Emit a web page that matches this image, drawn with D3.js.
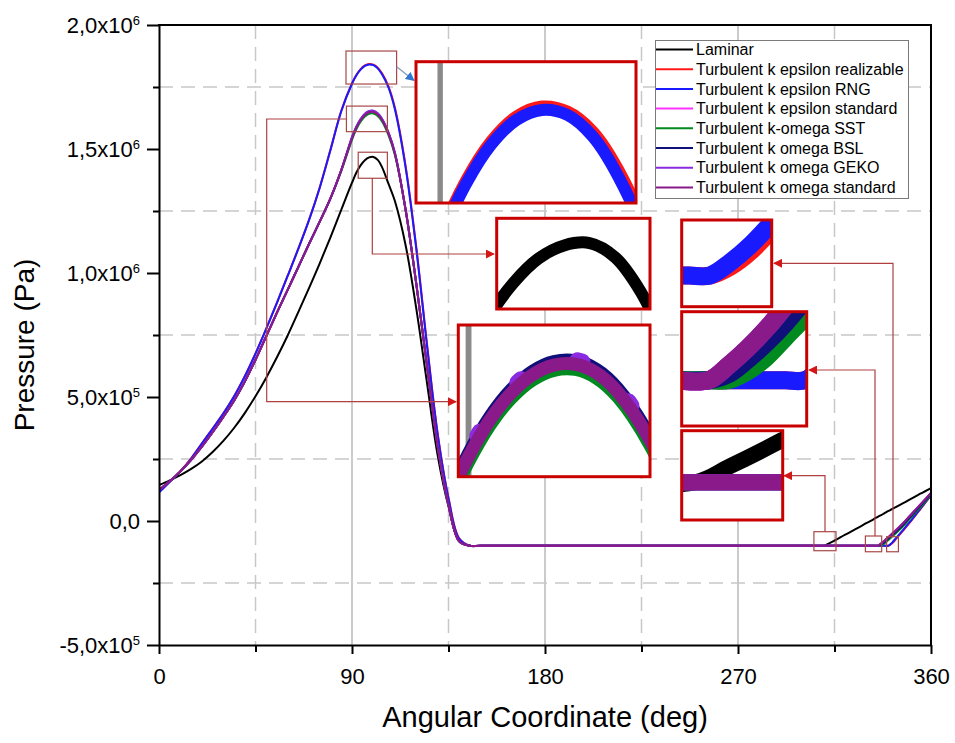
<!DOCTYPE html>
<html>
<head>
<meta charset="utf-8">
<script src="https://d3js.org/d3.v7.min.js"></script>
<style>
  body { margin: 0; background: #fff; }
  svg { display: block; font-family: "Liberation Sans", Arial, sans-serif; }
</style>
</head>
<body>
<svg id="chart" width="955" height="743"></svg>
<script>
// angular coordinate (deg), shared by every series
const angles = [0,5,10,15,20,25,30,35,40,45,50,55,60,65,70,75,80,85,90,92,94,96,98,100,102,104,107,110,115,120,125,130,135,140,145,150,200,250,300,305,310,312,315,320,325,330,333,335,336,337,338,339,340,341,342,344,347,350,355,360];

// pressure in kPa
const laminar = [145,164,185,210,240,278,323,375,435,503,578,660,748,843,940,1040,1145,1255,1364,1404,1434,1455,1466,1468,1456,1427,1360,1290,1112,855,555,262,58,-82,-100,-100,-100,-100,-100,-100,-100,-92,-79,-55,-32,-8,6,16,21,25,30,35,40,44,49,58,72,86,110,133];
const kepsRealizable = [118,159,202,253,313,373,434,503,584,676,776,881,989,1099,1215,1347,1499,1654,1765,1798,1822,1837,1843,1840,1828,1805,1753,1667,1432,1103,712,350,94,-70,-100,-100,-100,-100,-100,-100,-100,-100,-100,-100,-100,-100,-100,-100,-100,-100,-100,-100,-100,-96,-89,-69,-39,-8,47,103];
const kepsRNG = [115,157,200,252,312,372,433,502,583,675,775,880,988,1098,1214,1345,1497,1652,1763,1796,1820,1835,1841,1838,1825,1801,1748,1660,1425,1095,705,345,90,-72,-100,-100,-100,-100,-100,-100,-100,-100,-100,-100,-100,-100,-100,-100,-100,-100,-100,-100,-100,-94,-86,-66,-36,-5,50,105];
const kepsStandard = [125,160,200,247,300,358,420,485,562,650,745,840,932,1025,1118,1208,1302,1415,1543,1585,1616,1637,1648,1649,1639,1617,1562,1481,1255,955,625,300,65,-82,-100,-100,-100,-100,-100,-100,-100,-100,-100,-100,-100,-100,-100,-100,-95,-89,-82,-74,-66,-58,-50,-34,-9,19,66,113];
const komegaSST = [125,160,200,247,300,358,420,485,562,650,745,840,932,1025,1118,1208,1302,1411,1537,1579,1610,1631,1642,1643,1633,1611,1556,1476,1255,955,625,300,65,-82,-100,-100,-100,-100,-100,-100,-100,-100,-100,-100,-100,-100,-100,-100,-100,-97,-92,-85,-78,-70,-62,-46,-21,8,55,106];
const komegaBSL = [125,160,200,247,300,358,420,485,562,650,745,840,932,1025,1118,1208,1302,1415,1547,1589,1620,1641,1652,1653,1643,1621,1566,1484,1255,955,625,300,65,-82,-100,-100,-100,-100,-100,-100,-100,-100,-100,-100,-100,-100,-100,-100,-98,-93,-87,-80,-72,-64,-56,-40,-15,14,61,110];
const komegaGEKO = [125,160,200,247,300,358,420,485,562,650,745,840,932,1025,1118,1208,1302,1415,1548,1590,1621,1642,1653,1654,1644,1622,1567,1486,1255,955,625,300,65,-82,-100,-100,-100,-100,-100,-100,-100,-100,-100,-100,-100,-100,-100,-100,-95,-89,-82,-74,-66,-58,-50,-34,-9,19,66,113];
const komegaStandard = [125,160,200,247,300,358,420,485,562,650,745,840,932,1025,1118,1208,1302,1415,1543,1585,1616,1637,1648,1649,1639,1617,1562,1481,1255,955,625,300,65,-82,-100,-100,-100,-100,-100,-100,-100,-100,-100,-100,-100,-100,-100,-100,-95,-89,-82,-74,-66,-58,-50,-34,-9,19,66,113];

const seriesNames = ["Laminar","Turbulent k epsilon realizable","Turbulent k epsilon RNG","Turbulent k epsilon standard","Turbulent k-omega SST","Turbulent k omega BSL","Turbulent k omega GEKO","Turbulent k omega standard"];
const seriesValues = [laminar,kepsRealizable,kepsRNG,kepsStandard,komegaSST,komegaBSL,komegaGEKO,komegaStandard];
const seriesColors = ["#000000","#ff1a1a","#1a1aff","#ff33ff","#008a20","#10107a","#8a2be2","#8a1a8a"];

const xTicks = [0,90,180,270,360];
const xMinor = [45,135,225,315];
const yTicks = [-5e5,0,5e5,1e6,1.5e6,2e6];
const yTickBase = ["-5,0x10","0,0","5,0x10","1,0x10","1,5x10","2,0x10"];
const yTickExp = ["5","","5","6","6","6"];
const yMinor = [-2.5e5,2.5e5,7.5e5,1.25e6,1.75e6];

// zoom frames in the plot: [deg0, deg1, Pa0, Pa1]
const zoomBoxes = [[87.2,110.8,1.762e6,1.895e6],[87.4,106.5,1.570e6,1.673e6],[92.9,106.5,1.382e6,1.487e6],[305.4,315.7,-1.198e5,-4.31e4],[329.4,337.0,-1.24e5,-6.05e4],[339.3,344.8,-1.24e5,-6.33e4]];

const svg = d3.select("#chart");
const x = d3.scaleLinear().domain([0,360]).range([159,931]);
const y = d3.scaleLinear().domain([-5e5,2e6]).range([645,25]);

const series = seriesNames.map((name,i) => ({
  name: name,
  color: seriesColors[i],
  pts: angles.map((a,j) => [a, seriesValues[i][j]*1000])
}));

function lineFor(sx, sy) {
  return d3.line().x(d => sx(d[0])).y(d => sy(d[1])).curve(d3.curveCatmullRom.alpha(0.5));
}

const defs = svg.append("defs");
defs.append("clipPath").attr("id","plotClip").append("rect")
  .attr("x",159).attr("y",25).attr("width",772).attr("height",620);
[["arrowRed","#d41616"],["arrowBlue","#2f78d0"]].forEach(m => {
  defs.append("marker").attr("id",m[0]).attr("viewBox","0 0 10 10")
    .attr("refX",9).attr("refY",5).attr("markerWidth",9).attr("markerHeight",9)
    .attr("markerUnits","userSpaceOnUse").attr("orient","auto")
    .append("path").attr("d","M0,0L10,5L0,10z").attr("fill",m[1]);
});

// grid
const grid = svg.append("g");
xTicks.slice(1,-1).forEach(v => grid.append("line")
  .attr("x1",x(v)).attr("x2",x(v)).attr("y1",25).attr("y2",645)
  .attr("stroke","#a8a8a8").attr("stroke-width",1.2));
xMinor.forEach(v => grid.append("line")
  .attr("x1",x(v)).attr("x2",x(v)).attr("y1",25).attr("y2",645)
  .attr("stroke","#c8c8c8").attr("stroke-width",1.5).attr("stroke-dasharray","14,8"));
yMinor.forEach(v => grid.append("line")
  .attr("x1",159).attr("x2",931).attr("y1",y(v)).attr("y2",y(v))
  .attr("stroke","#c8c8c8").attr("stroke-width",1.5).attr("stroke-dasharray","14,8"));

// curves
const curves = svg.append("g").attr("clip-path","url(#plotClip)");
series.forEach(s => curves.append("path").datum(s.pts)
  .attr("d", lineFor(x,y)).attr("fill","none")
  .attr("stroke", s.color).attr("stroke-width",2));

// zoom frames and leader lines
zoomBoxes.forEach(b => svg.append("rect")
  .attr("x",x(b[0])).attr("y",y(b[3]))
  .attr("width",x(b[1])-x(b[0])).attr("height",y(b[2])-y(b[3]))
  .attr("fill","none").attr("stroke","#a84848").attr("stroke-width",1.2));

const links = [
  {pts:[[396.7,66.7],[414,80.5]], color:"#7f98b8", head:"arrowBlue"},
  {pts:[[372.3,178.3],[372.3,254],[494,254]], color:"#b04040", head:"arrowRed"},
  {pts:[[346.5,119],[266.7,119],[266.7,401.7],[456,401.7]], color:"#b04040", head:"arrowRed"},
  {pts:[[825,531.7],[825,475.7],[784,475.7]], color:"#b04040", head:"arrowRed"},
  {pts:[[875,536],[875,370],[809,370]], color:"#b04040", head:"arrowRed"},
  {pts:[[893,536.7],[893,263.3],[774,263.3]], color:"#b04040", head:"arrowRed"}
];
links.forEach(l => svg.append("path")
  .attr("d", d3.line()(l.pts)).attr("fill","none")
  .attr("stroke", l.color).attr("stroke-width",1.2)
  .attr("marker-end", `url(#${l.head})`));

// legend
const leg = svg.append("g");
leg.append("rect").attr("x",655.5).attr("y",40.5).attr("width",253).attr("height",158)
  .attr("fill","#fff").attr("stroke","#7a7a7a").attr("stroke-width",1);
series.forEach((s,i) => {
  const yy = 49.5 + i*19.7;
  leg.append("line").attr("x1",656).attr("x2",693).attr("y1",yy).attr("y2",yy)
    .attr("stroke",s.color).attr("stroke-width",2);
  leg.append("text").attr("x",696).attr("y",yy).attr("dy","0.36em")
    .style("font-size","16px").attr("fill","#000").text(s.name);
});

// magnified views
const insets = [
  {box:[416,61.7,636,203], xd:[88.1,105.4], yd:[1.785e6,1.87e6], sw:12, show:[1,2]},
  {box:[496.7,218.3,650,309], xd:[92.7,104.75], yd:[1.412e6,1.489e6], sw:12, show:[0]},
  {box:[458.3,325,650,476.7], xd:[89.04,107], yd:[1.52e6,1.694e6], sw:13, show:[3,4,5,6,7], dotted:6},
  {box:[681.7,220,771.7,306.7], xd:[338.65,343.0], yd:[-1.14e5,-7.5e4], sw:18, show:[1,2]},
  {box:[681.7,311.7,806.7,426], xd:[333.6,340.1], yd:[-1.16e5,-7.6e4], sw:18, show:[1,2,3,4,5,6,7]},
  {box:[681.7,430.7,782.7,520], xd:[309.2,315.1], yd:[-1.19e5,-7.4e4], sw:16, show:[0,1,2,3,4,5,6,7]}
];
insets.forEach((ins,k) => {
  const [x0,y0,x1,y1] = ins.box;
  const sx = d3.scaleLinear().domain(ins.xd).range([x0,x1]);
  const sy = d3.scaleLinear().domain(ins.yd).range([y1,y0]);
  const id = "inset" + k;
  defs.append("clipPath").attr("id",id).append("rect")
    .attr("x",x0).attr("y",y0).attr("width",x1-x0).attr("height",y1-y0);
  const g = svg.append("g");
  g.append("rect").attr("x",x0).attr("y",y0).attr("width",x1-x0).attr("height",y1-y0).attr("fill","#fff");
  const gc = g.append("g").attr("clip-path",`url(#${id})`);
  xTicks.filter(v => v > ins.xd[0] && v < ins.xd[1]).forEach(v => gc.append("line")
    .attr("x1",sx(v)).attr("x2",sx(v)).attr("y1",y0).attr("y2",y1)
    .attr("stroke","#8a8a8a").attr("stroke-width",ins.sw*0.45));
  ins.show.forEach(i => {
    const p = gc.append("path").datum(series[i].pts)
      .attr("d", lineFor(sx,sy)).attr("fill","none")
      .attr("stroke",series[i].color).attr("stroke-width",ins.sw);
    if (ins.dotted === i) p.attr("stroke-width",ins.sw+3)
      .attr("stroke-linecap","round").attr("stroke-dasharray","5,62");
  });
  g.append("rect").attr("x",x0).attr("y",y0).attr("width",x1-x0).attr("height",y1-y0)
    .attr("fill","none").attr("stroke","#c80000").attr("stroke-width",3);
});

// axes
const font = "Liberation Sans, Arial, sans-serif";
const xAxis = svg.append("g").attr("transform","translate(0,645)")
  .call(d3.axisBottom(x).tickValues(xTicks).tickSize(9).tickSizeOuter(0).tickPadding(14).tickFormat(d3.format("d")));
svg.append("g").attr("transform","translate(0,645)")
  .call(d3.axisBottom(x).tickValues(xMinor).tickSize(7).tickSizeOuter(0).tickFormat(""))
  .call(g => g.select(".domain").remove())
  .selectAll(".tick line").attr("stroke-width",2);
xAxis.attr("font-family",font).attr("font-size",22);
xAxis.select(".domain").attr("stroke-width",2);
xAxis.selectAll(".tick line").attr("stroke-width",2);
xAxis.selectAll(".tick text").attr("fill","#000");

const yAxis = svg.append("g").attr("transform","translate(159,0)")
  .call(d3.axisLeft(y).tickValues(yTicks).tickSize(12).tickSizeOuter(0).tickFormat(""));
yAxis.select(".domain").attr("stroke-width",2);
yAxis.selectAll(".tick line").attr("stroke-width",2);
svg.append("g").attr("transform","translate(159,0)")
  .call(d3.axisLeft(y).tickValues(yMinor).tickSize(6).tickSizeOuter(0).tickFormat(""))
  .call(g => g.select(".domain").remove())
  .selectAll(".tick line").attr("stroke-width",2);

yTicks.forEach((v,i) => {
  const t = svg.append("text").attr("x",140).attr("y",y(v)).attr("dy","0.36em")
    .attr("text-anchor","end").style("font-size","22px").attr("fill","#000");
  t.append("tspan").text(yTickBase[i]);
  if (yTickExp[i]) t.append("tspan").attr("dy","-0.62em").style("font-size","13px").text(yTickExp[i]);
});

// frame
svg.append("line").attr("x1",158).attr("x2",932).attr("y1",25).attr("y2",25).attr("stroke","#000").attr("stroke-width",2);
svg.append("line").attr("x1",931).attr("x2",931).attr("y1",25).attr("y2",645).attr("stroke","#000").attr("stroke-width",2);

// axis titles
svg.append("text").attr("x",545).attr("y",727).attr("text-anchor","middle")
  .style("font-size","29px").attr("fill","#000").text("Angular Coordinate (deg)");
svg.append("text").attr("transform","translate(34,345) rotate(-90)").attr("text-anchor","middle")
  .style("font-size","28px").attr("fill","#000").text("Pressure (Pa)");
</script>
</body>
</html>
